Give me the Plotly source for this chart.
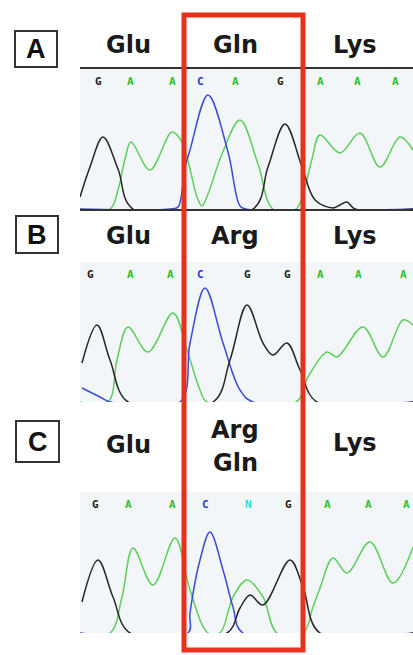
import plotly.graph_objects as go

# ---------------- data (scan position, signal intensity) ----------------
# Panel A
a_black_x = [80, 90, 103, 118, 133, 253, 268, 285, 302, 315, 333, 340, 347, 355, 413]
a_black_y = [12, 42, 72, 40, 0, 0, 42, 85, 42, 9, 1, 4, 7, 0, 0]
a_green_x = [80, 110, 118, 125, 131, 150, 172, 182, 190, 197, 202, 208, 222, 240, 258, 273, 296, 305, 312, 320, 340, 360, 380, 400, 413]
a_green_y = [0, 0, 19, 50, 67, 39, 77, 67, 40, 12, 3, 15, 55, 89, 45, 0, 0, 22, 50, 74, 56, 76, 42, 72, 59]
a_blue_x = [80, 170, 178, 185, 190, 208, 228, 240, 246, 413]
a_blue_y = [0, 0, 2, 42, 59, 114, 57, 3, 0, 0]

# Panel B
b_black_x = [82, 97, 110, 128, 213, 230, 247, 263, 273, 287, 300, 317, 413]
b_black_y = [39, 77, 42, 0, 0, 42, 97, 59, 47, 59, 32, 0, 0]
b_green_x = [80, 108, 117, 128, 148, 173, 187, 200, 207, 296, 308, 327, 337, 363, 383, 403, 413]
b_green_y = [0, 0, 42, 75, 50, 89, 52, 12, 0, 0, 25, 50, 45, 75, 45, 82, 77]
b_blue_x = [82, 100, 110, 180, 190, 205, 223, 240, 253, 413]
b_blue_y = [14, 5, 0, 0, 59, 114, 59, 12, 0, 0]

# Panel C
c_black_x = [82, 98, 113, 130, 227, 240, 250, 263, 290, 303, 320, 413]
c_black_y = [31, 73, 36, 0, 0, 25, 38, 28, 73, 46, 0, 0]
c_green_x = [80, 110, 122, 133, 153, 175, 190, 208, 220, 233, 247, 263, 277, 303, 313, 320, 333, 347, 370, 393, 413]
c_green_y = [0, 0, 36, 85, 48, 95, 43, 0, 0, 36, 53, 36, 0, 0, 26, 45, 75, 60, 91, 50, 86]
c_blue_x = [80, 188, 190, 200, 210, 223, 233, 243, 413]
c_blue_y = [0, 0, 20, 73, 101, 63, 26, 0, 0]

# Base calls
a_bases = ["G", "A", "A", "C", "A", "G", "A", "A", "A"]
a_base_x = [98, 130, 172, 200, 235, 280, 320, 357, 395]
b_bases = ["G", "A", "A", "C", "G", "G", "A", "A", "A"]
b_base_x = [90, 130, 170, 200, 247, 287, 320, 358, 403]
c_bases = ["G", "A", "A", "C", "N", "G", "A", "A", "A"]
c_base_x = [95, 128, 172, 205, 248, 288, 327, 368, 406]

# Amino-acid labels
codon_x = [128, 235, 355]
a_codons = ["Glu", "Gln", "Lys"]
b_codons = ["Glu", "Arg", "Lys"]
c_codons = ["Glu", "Arg<br>Gln", "Lys"]
panel_letters = ["A", "B", "C"]

# ---------------- styling ----------------
W, H = 413, 655
BLACK = "#262626"
GREEN = "#5ccf5c"
BLUE = "#3a4bd8"
BASE_COLORS = {"G": "#1e1e1e", "A": "#2cc22c", "C": "#2a3bd0", "N": "#33d6e0"}
RED = "#e8301c"

# panel geometry (pixels): baseline, top line
panels = [
    dict(base=209, top=69, bx=a_black_x, by=a_black_y, gx=a_green_x, gy=a_green_y,
         ux=a_blue_x, uy=a_blue_y, bases=a_bases, basex=a_base_x, codons=a_codons,
         label_y=[45, 45, 45], box=(15, 31, 57, 67)),
    dict(base=402, top=262, bx=b_black_x, by=b_black_y, gx=b_green_x, gy=b_green_y,
         ux=b_blue_x, uy=b_blue_y, bases=b_bases, basex=b_base_x, codons=b_codons,
         label_y=[236, 236, 236], box=(16, 216, 58, 253)),
    dict(base=633, top=492, bx=c_black_x, by=c_black_y, gx=c_green_x, gy=c_green_y,
         ux=c_blue_x, uy=c_blue_y, bases=c_bases, basex=c_base_x, codons=c_codons,
         label_y=[445, 446, 443], box=(16, 421, 59, 462)),
]

def py(p):
    return 1 - p / H

fig = go.Figure()
annotations = []
shapes = []
layout = {}

for i, p in enumerate(panels):
    n = "" if i == 0 else str(i + 1)
    xa, ya = "x" + n, "y" + n
    rng = p["base"] - p["top"]
    layout["xaxis" + n] = dict(domain=[80 / W, 1], range=[80, 413], showticklabels=False,
                               showgrid=False, zeroline=False, showline=True, mirror=True,
                               linecolor="#333333", linewidth=2, ticks="", fixedrange=True)
    layout["yaxis" + n] = dict(domain=[py(p["base"]), py(p["top"])], range=[0, rng],
                               showticklabels=False, showgrid=False, zeroline=False,
                               showline=False, ticks="", fixedrange=True)
    for xs, ys, col in [(p["gx"], p["gy"], GREEN), (p["ux"], p["uy"], BLUE), (p["bx"], p["by"], BLACK)]:
        fig.add_trace(go.Scatter(x=xs, y=ys, mode="lines", xaxis=xa, yaxis=ya,
                                 line=dict(color=col, width=1.5, shape="spline", smoothing=1.0),
                                 hoverinfo="skip", showlegend=False))
    # base calls
    for b, bx in zip(p["bases"], p["basex"]):
        annotations.append(dict(x=bx, y=rng - 12, xref=xa, yref=ya, text="<b>" + b + "</b>",
                                showarrow=False, font=dict(family="DejaVu Sans Mono", size=11,
                                color=BASE_COLORS[b]), xanchor="center", yanchor="middle"))
    # codon labels
    for c, cx, cy in zip(p["codons"], codon_x, p["label_y"]):
        if "<br>" in c:
            parts = c.split("<br>")
            for k, part in enumerate(parts):
                annotations.append(dict(x=cx / W, y=py(cy - 16 + 33 * k), xref="paper", yref="paper",
                                        text="<b>" + part + "</b>", showarrow=False,
                                        font=dict(family="DejaVu Sans", size=24, color="#1a1a1a"),
                                        xanchor="center", yanchor="middle"))
        else:
            annotations.append(dict(x=cx / W, y=py(cy), xref="paper", yref="paper",
                                    text="<b>" + c + "</b>", showarrow=False,
                                    font=dict(family="DejaVu Sans", size=24, color="#1a1a1a"),
                                    xanchor="center", yanchor="middle"))
    # panel letter box
    x0, y0, x1, y1 = p["box"]
    shapes.append(dict(type="rect", xref="paper", yref="paper", x0=x0 / W, x1=x1 / W,
                       y0=py(y1), y1=py(y0), line=dict(color="#333333", width=2)))
    annotations.append(dict(x=(x0 + x1) / 2 / W, y=py((y0 + y1) / 2), xref="paper", yref="paper",
                            text="<b>" + panel_letters[i] + "</b>", showarrow=False,
                            font=dict(family="Liberation Sans", size=27, color="#111111"),
                            xanchor="center", yanchor="middle"))

# red highlight box
shapes.append(dict(type="rect", xref="paper", yref="paper", x0=184 / W, x1=303 / W,
                   y0=py(650), y1=py(15), line=dict(color=RED, width=5), layer="above"))

fig.update_layout(width=W, height=H, margin=dict(l=0, r=0, t=0, b=0),
                  paper_bgcolor="white", plot_bgcolor="#f3f6f8",
                  annotations=annotations, shapes=shapes, showlegend=False, **layout)

fig.write_html("out.html", config={"displayModeBar": False},
               post_script="document.body.style.margin='0';document.body.style.overflow='hidden';")
